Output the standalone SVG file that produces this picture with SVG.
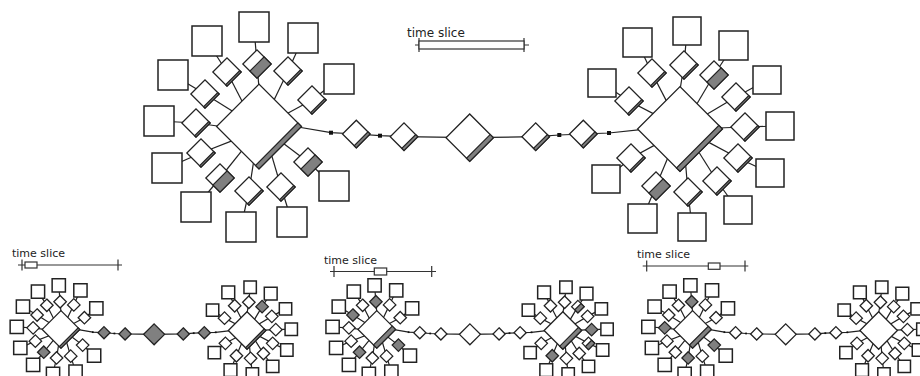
<svg xmlns="http://www.w3.org/2000/svg" width="920" height="376" viewBox="0 0 920 376">
<style>
.sq{fill:#fff;stroke:#222;stroke-width:1.5}
.d{fill:#fff;stroke:#222;stroke-width:1.3}
.d.g{fill:#808080}
.bar{fill:#808080;stroke:#222;stroke-width:1.2}
.c path{fill:none;stroke:#222;stroke-width:1.2}
.dot{fill:#111}
.ts{font-family:"DejaVu Sans",sans-serif;fill:#222}
.tl{stroke:#333;stroke-width:1.2;fill:none}
.tr{fill:#fff;stroke:#333;stroke-width:1.2}
.bot *{vector-effect:non-scaling-stroke}
</style>
<rect width="920" height="376" fill="#fff"/>

<!-- ===== TOP DIAGRAM ===== -->
<g id="top">
<g id="connectors" class="c">
<path d="M257 64L259 88"/><path d="M227 72L244 105"/><path d="M205 94L235.4 113.1"/><path d="M196 123L221 126.5"/><path d="M201 153L235 139.6"/><path d="M220 178L243.9 148.2"/><path d="M249 191L254 159.4"/><path d="M281 187L270.7 152.2"/><path d="M308 162L280.9 141.4"/><path d="M312 100L284.5 115"/><path d="M288 71L272.6 103"/>
<path d="M257 64L254 27"/><path d="M227 72L207 41"/><path d="M205 94L173 75"/><path d="M196 123L159 121"/><path d="M201 153L167 168"/><path d="M220 178L196 207"/><path d="M249 191L241 227"/><path d="M281 187L292 222"/><path d="M308 162L334 186"/><path d="M312 100L339 79"/><path d="M288 71L303 38"/>
<path d="M652 73L667.8 103.6"/><path d="M684 65L680 90"/><path d="M714 75L695.2 106.7"/><path d="M736 97L704.3 115.8"/><path d="M629 101L656.6 115.4"/><path d="M745 127L718 128"/><path d="M738 158L705.5 140.6"/><path d="M631 158L657.5 143.6"/><path d="M717 181L696.9 149"/><path d="M656 186L669 155"/><path d="M688 192L685.4 161.7"/>
<path d="M652 73L637.5 42.5"/><path d="M684 65L687 31"/><path d="M714 75L733.5 45.5"/><path d="M736 97L767 80"/><path d="M629 101L602 83"/><path d="M745 127L780 126"/><path d="M738 158L770 173"/><path d="M631 158L606 179"/><path d="M717 181L738 210"/><path d="M656 186L642.5 218.5"/><path d="M688 192L692 227"/>
<path d="M295 126.5L331 132.7L356.3 134L380 135.7L404 136.7L469.7 137.7L535.7 136.7L559.3 135L583.3 134L609 133L643 129.3"/>
</g>

<g id="hubL" transform="translate(259 126.5) rotate(45)"><rect class="d" x="-30" y="-30" width="60" height="60"/><rect class="bar" x="25" y="-30" width="5" height="60"/></g>
<g id="hubR" transform="translate(680 129) rotate(45)"><rect class="d" x="-30" y="-30" width="60" height="60"/><rect class="bar" x="25" y="-30" width="5" height="60"/></g>

<g id="L1" transform="translate(257 64) rotate(45)"><rect class="d" x="-10" y="-10" width="20" height="20"/><rect class="bar" x="0" y="-10" width="10" height="20"/></g>
<g id="L2" transform="translate(227 72) rotate(45)"><rect class="d" x="-10" y="-10" width="20" height="20"/><rect class="bar" x="8" y="-10" width="2" height="20"/></g>
<g id="L3" transform="translate(205 94) rotate(45)"><rect class="d" x="-10" y="-10" width="20" height="20"/><rect class="bar" x="8" y="-10" width="2" height="20"/></g>
<g id="L4" transform="translate(196 123) rotate(45)"><rect class="d" x="-10" y="-10" width="20" height="20"/><rect class="bar" x="8" y="-10" width="2" height="20"/></g>
<g id="L5" transform="translate(201 153) rotate(45)"><rect class="d" x="-10" y="-10" width="20" height="20"/><rect class="bar" x="8" y="-10" width="2" height="20"/></g>
<g id="L6" transform="translate(220 178) rotate(45)"><rect class="d" x="-10" y="-10" width="20" height="20"/><rect class="bar" x="0" y="-10" width="10" height="20"/></g>
<g id="L7" transform="translate(249 191) rotate(45)"><rect class="d" x="-10" y="-10" width="20" height="20"/><rect class="bar" x="8" y="-10" width="2" height="20"/></g>
<g id="L8" transform="translate(281 187) rotate(45)"><rect class="d" x="-10" y="-10" width="20" height="20"/><rect class="bar" x="8" y="-10" width="2" height="20"/></g>
<g id="L9" transform="translate(308 162) rotate(45)"><rect class="d" x="-10" y="-10" width="20" height="20"/><rect class="bar" x="0" y="-10" width="10" height="20"/></g>
<g id="L10" transform="translate(312 100) rotate(45)"><rect class="d" x="-10" y="-10" width="20" height="20"/><rect class="bar" x="8" y="-10" width="2" height="20"/></g>
<g id="L11" transform="translate(288 71) rotate(45)"><rect class="d" x="-10" y="-10" width="20" height="20"/><rect class="bar" x="8" y="-10" width="2" height="20"/></g>

<g id="Lq1"><rect class="sq" x="239" y="12" width="30" height="30"/></g>
<g id="Lq2"><rect class="sq" x="192" y="26" width="30" height="30"/></g>
<g id="Lq3"><rect class="sq" x="158" y="60" width="30" height="30"/></g>
<g id="Lq4"><rect class="sq" x="144" y="106" width="30" height="30"/></g>
<g id="Lq5"><rect class="sq" x="152" y="153" width="30" height="30"/></g>
<g id="Lq6"><rect class="sq" x="181" y="192" width="30" height="30"/></g>
<g id="Lq7"><rect class="sq" x="226" y="212" width="30" height="30"/></g>
<g id="Lq8"><rect class="sq" x="277" y="207" width="30" height="30"/></g>
<g id="Lq9"><rect class="sq" x="319" y="171" width="30" height="30"/></g>
<g id="Lq10"><rect class="sq" x="324" y="64" width="30" height="30"/></g>
<g id="Lq11"><rect class="sq" x="288" y="23" width="30" height="30"/></g>

<g id="Ra" transform="translate(652 73) rotate(45)"><rect class="d" x="-10" y="-10" width="20" height="20"/><rect class="bar" x="8" y="-10" width="2" height="20"/></g>
<g id="Rb" transform="translate(684 65) rotate(45)"><rect class="d" x="-10" y="-10" width="20" height="20"/><rect class="bar" x="8" y="-10" width="2" height="20"/></g>
<g id="Rc" transform="translate(714 75) rotate(45)"><rect class="d" x="-10" y="-10" width="20" height="20"/><rect class="bar" x="0" y="-10" width="10" height="20"/></g>
<g id="Rd" transform="translate(736 97) rotate(45)"><rect class="d" x="-10" y="-10" width="20" height="20"/><rect class="bar" x="8" y="-10" width="2" height="20"/></g>
<g id="Re" transform="translate(629 101) rotate(45)"><rect class="d" x="-10" y="-10" width="20" height="20"/><rect class="bar" x="8" y="-10" width="2" height="20"/></g>
<g id="Rf" transform="translate(745 127) rotate(45)"><rect class="d" x="-10" y="-10" width="20" height="20"/><rect class="bar" x="8" y="-10" width="2" height="20"/></g>
<g id="Rg" transform="translate(738 158) rotate(45)"><rect class="d" x="-10" y="-10" width="20" height="20"/><rect class="bar" x="8" y="-10" width="2" height="20"/></g>
<g id="Rh" transform="translate(631 158) rotate(45)"><rect class="d" x="-10" y="-10" width="20" height="20"/><rect class="bar" x="8" y="-10" width="2" height="20"/></g>
<g id="Ri" transform="translate(717 181) rotate(45)"><rect class="d" x="-10" y="-10" width="20" height="20"/><rect class="bar" x="8" y="-10" width="2" height="20"/></g>
<g id="Rj" transform="translate(656 186) rotate(45)"><rect class="d" x="-10" y="-10" width="20" height="20"/><rect class="bar" x="0" y="-10" width="10" height="20"/></g>
<g id="Rk" transform="translate(688 192) rotate(45)"><rect class="d" x="-10" y="-10" width="20" height="20"/><rect class="bar" x="8" y="-10" width="2" height="20"/></g>

<g id="Rqa"><rect class="sq" x="623" y="28" width="29" height="29"/></g>
<g id="Rqb"><rect class="sq" x="673" y="17" width="28" height="28"/></g>
<g id="Rqc"><rect class="sq" x="719" y="31" width="29" height="29"/></g>
<g id="Rqd"><rect class="sq" x="753" y="66" width="28" height="28"/></g>
<g id="Rqe"><rect class="sq" x="588" y="69" width="28" height="28"/></g>
<g id="Rqf"><rect class="sq" x="766" y="112" width="28" height="28"/></g>
<g id="Rqg"><rect class="sq" x="756" y="159" width="28" height="28"/></g>
<g id="Rqh"><rect class="sq" x="592" y="165" width="28" height="28"/></g>
<g id="Rqi"><rect class="sq" x="724" y="196" width="28" height="28"/></g>
<g id="Rqj"><rect class="sq" x="628" y="204" width="29" height="29"/></g>
<g id="Rqk"><rect class="sq" x="678" y="213" width="28" height="28"/></g>

<g id="Cdot1"><rect class="dot" x="329" y="130.7" width="4" height="4"/></g>
<g id="Cd1" transform="translate(356.3 134) rotate(45)"><rect class="d" x="-9.75" y="-9.75" width="19.5" height="19.5"/><rect class="bar" x="6.75" y="-9.75" width="3" height="19.5"/></g>
<g id="Cdot2"><rect class="dot" x="378" y="133.7" width="4" height="4"/></g>
<g id="Cd2" transform="translate(404 136.7) rotate(45)"><rect class="d" x="-9.75" y="-9.75" width="19.5" height="19.5"/><rect class="bar" x="6.75" y="-9.75" width="3" height="19.5"/></g>
<g id="Cbig" transform="translate(469.7 137.7) rotate(45)"><rect class="d" x="-16.75" y="-16.75" width="33.5" height="33.5"/><rect class="bar" x="12.25" y="-16.75" width="4.5" height="33.5"/></g>
<g id="Cd3" transform="translate(535.7 136.7) rotate(45)"><rect class="d" x="-9.75" y="-9.75" width="19.5" height="19.5"/><rect class="bar" x="6.75" y="-9.75" width="3" height="19.5"/></g>
<g id="Cdot3"><rect class="dot" x="557.3" y="133" width="4" height="4"/></g>
<g id="Cd4" transform="translate(583.3 134) rotate(45)"><rect class="d" x="-9.75" y="-9.75" width="19.5" height="19.5"/><rect class="bar" x="6.75" y="-9.75" width="3" height="19.5"/></g>
<g id="Cdot4"><rect class="dot" x="607" y="131" width="4" height="4"/></g>

<g id="timeslice-top">
<text class="ts" x="407" y="37" font-size="12">time slice</text>
<path class="tl" d="M415 45H529M419 38V52M524 38V52"/>
<rect class="tr" x="419" y="41" width="105" height="8"/>
</g>
</g>

<!-- ===== BOTTOM PANEL 1 ===== -->
<g id="timeslice-p1">
<text class="ts" x="12" y="257" font-size="11">time slice</text>
<path class="tl" d="M18 265H122M22 259.5V270.5M118 259.5V270.5"/>
<rect class="tr" x="25" y="262" width="12" height="6"/>
</g>
<g id="panel1" class="bot" transform="translate(-53.5 273.5) scale(0.442)">
<g id="p1-connectors" class="c">
<path d="M257 64L259 88M227 72L244 105M205 94L235.4 113.1M196 123L221 126.5M201 153L235 139.6M220 178L243.9 148.2M249 191L254 159.4M281 187L270.7 152.2M308 162L280.9 141.4M312 100L284.5 115M288 71L272.6 103"/>
<path d="M257 64L254 27M227 72L207 41M205 94L173 75M196 123L159 121M201 153L167 168M220 178L196 207M249 191L241 227M281 187L292 222M308 162L334 186M312 100L339 79M288 71L303 38"/>
<path d="M652 73L667.8 103.6M684 65L680 90M714 75L695.2 106.7M736 97L704.3 115.8M629 101L656.6 115.4M745 127L718 128M738 158L705.5 140.6M631 158L657.5 143.6M717 181L696.9 149M656 186L669 155M688 192L685.4 161.7"/>
<path d="M652 73L637.5 42.5M684 65L687 31M714 75L733.5 45.5M736 97L767 80M629 101L602 83M745 127L780 126M738 158L770 173M631 158L606 179M717 181L738 210M656 186L642.5 218.5M688 192L692 227"/>
<path d="M295 126.5L331 132.7L356.3 134L380 135.7L404 136.7L469.7 137.7L535.7 136.7L559.3 135L583.3 134L609 133L643 129.3"/>
</g>
<g id="p1-hubL" transform="translate(259 126.5) rotate(45)"><rect class="d" x="-30" y="-30" width="60" height="60"/><rect class="bar" x="25" y="-30" width="5" height="60"/></g>
<g id="p1-hubR" transform="translate(680 129) rotate(45)"><rect class="d" x="-30" y="-30" width="60" height="60"/><rect class="bar" x="25" y="-30" width="5" height="60"/></g>
<g id="p1-L1" transform="translate(257 64) rotate(45)"><rect class="d" x="-10" y="-10" width="20" height="20"/></g>
<g id="p1-L2" transform="translate(227 72) rotate(45)"><rect class="d" x="-10" y="-10" width="20" height="20"/></g>
<g id="p1-L3" transform="translate(205 94) rotate(45)"><rect class="d" x="-10" y="-10" width="20" height="20"/></g>
<g id="p1-L4" transform="translate(196 123) rotate(45)"><rect class="d" x="-10" y="-10" width="20" height="20"/></g>
<g id="p1-L5" transform="translate(201 153) rotate(45)"><rect class="d" x="-10" y="-10" width="20" height="20"/></g>
<g id="p1-L6" transform="translate(220 178) rotate(45)"><rect class="d g" x="-10" y="-10" width="20" height="20"/></g>
<g id="p1-L7" transform="translate(249 191) rotate(45)"><rect class="d" x="-10" y="-10" width="20" height="20"/></g>
<g id="p1-L8" transform="translate(281 187) rotate(45)"><rect class="d" x="-10" y="-10" width="20" height="20"/></g>
<g id="p1-L9" transform="translate(308 162) rotate(45)"><rect class="d" x="-10" y="-10" width="20" height="20"/></g>
<g id="p1-L10" transform="translate(312 100) rotate(45)"><rect class="d" x="-10" y="-10" width="20" height="20"/></g>
<g id="p1-L11" transform="translate(288 71) rotate(45)"><rect class="d" x="-10" y="-10" width="20" height="20"/></g>
<g id="p1-Lq1"><rect class="sq" x="239" y="12" width="30" height="30"/></g>
<g id="p1-Lq2"><rect class="sq" x="192" y="26" width="30" height="30"/></g>
<g id="p1-Lq3"><rect class="sq" x="158" y="60" width="30" height="30"/></g>
<g id="p1-Lq4"><rect class="sq" x="144" y="106" width="30" height="30"/></g>
<g id="p1-Lq5"><rect class="sq" x="152" y="153" width="30" height="30"/></g>
<g id="p1-Lq6"><rect class="sq" x="181" y="192" width="30" height="30"/></g>
<g id="p1-Lq7"><rect class="sq" x="226" y="212" width="30" height="30"/></g>
<g id="p1-Lq8"><rect class="sq" x="277" y="207" width="30" height="30"/></g>
<g id="p1-Lq9"><rect class="sq" x="319" y="171" width="30" height="30"/></g>
<g id="p1-Lq10"><rect class="sq" x="324" y="64" width="30" height="30"/></g>
<g id="p1-Lq11"><rect class="sq" x="288" y="23" width="30" height="30"/></g>
<g id="p1-Ra" transform="translate(652 73) rotate(45)"><rect class="d" x="-10" y="-10" width="20" height="20"/></g>
<g id="p1-Rb" transform="translate(684 65) rotate(45)"><rect class="d" x="-10" y="-10" width="20" height="20"/></g>
<g id="p1-Rc" transform="translate(714 75) rotate(45)"><rect class="d g" x="-10" y="-10" width="20" height="20"/></g>
<g id="p1-Rd" transform="translate(736 97) rotate(45)"><rect class="d" x="-10" y="-10" width="20" height="20"/></g>
<g id="p1-Re" transform="translate(629 101) rotate(45)"><rect class="d" x="-10" y="-10" width="20" height="20"/></g>
<g id="p1-Rf" transform="translate(745 127) rotate(45)"><rect class="d" x="-10" y="-10" width="20" height="20"/></g>
<g id="p1-Rg" transform="translate(738 158) rotate(45)"><rect class="d" x="-10" y="-10" width="20" height="20"/></g>
<g id="p1-Rh" transform="translate(631 158) rotate(45)"><rect class="d" x="-10" y="-10" width="20" height="20"/></g>
<g id="p1-Ri" transform="translate(717 181) rotate(45)"><rect class="d" x="-10" y="-10" width="20" height="20"/></g>
<g id="p1-Rj" transform="translate(656 186) rotate(45)"><rect class="d" x="-10" y="-10" width="20" height="20"/></g>
<g id="p1-Rk" transform="translate(688 192) rotate(45)"><rect class="d" x="-10" y="-10" width="20" height="20"/></g>
<g id="p1-Rqa"><rect class="sq" x="623" y="28" width="29" height="29"/></g>
<g id="p1-Rqb"><rect class="sq" x="673" y="17" width="28" height="28"/></g>
<g id="p1-Rqc"><rect class="sq" x="719" y="31" width="29" height="29"/></g>
<g id="p1-Rqd"><rect class="sq" x="753" y="66" width="28" height="28"/></g>
<g id="p1-Rqe"><rect class="sq" x="588" y="69" width="28" height="28"/></g>
<g id="p1-Rqf"><rect class="sq" x="766" y="112" width="28" height="28"/></g>
<g id="p1-Rqg"><rect class="sq" x="756" y="159" width="28" height="28"/></g>
<g id="p1-Rqh"><rect class="sq" x="592" y="165" width="28" height="28"/></g>
<g id="p1-Rqi"><rect class="sq" x="724" y="196" width="28" height="28"/></g>
<g id="p1-Rqj"><rect class="sq" x="628" y="204" width="29" height="29"/></g>
<g id="p1-Rqk"><rect class="sq" x="678" y="213" width="28" height="28"/></g>
<g id="p1-Cdot1"><rect class="dot" x="329" y="130.7" width="4" height="4"/></g>
<g id="p1-Cd1" transform="translate(356.3 134) rotate(45)"><rect class="d g" x="-9.75" y="-9.75" width="19.5" height="19.5"/></g>
<g id="p1-Cdot2"><rect class="dot" x="378" y="133.7" width="4" height="4"/></g>
<g id="p1-Cd2" transform="translate(404 136.7) rotate(45)"><rect class="d g" x="-9.75" y="-9.75" width="19.5" height="19.5"/></g>
<g id="p1-Cbig" transform="translate(469.7 137.7) rotate(45)"><rect class="d g" x="-16.75" y="-16.75" width="33.5" height="33.5"/></g>
<g id="p1-Cd3" transform="translate(535.7 136.7) rotate(45)"><rect class="d g" x="-9.75" y="-9.75" width="19.5" height="19.5"/></g>
<g id="p1-Cdot3"><rect class="dot" x="557.3" y="133" width="4" height="4"/></g>
<g id="p1-Cd4" transform="translate(583.3 134) rotate(45)"><rect class="d g" x="-9.75" y="-9.75" width="19.5" height="19.5"/></g>
<g id="p1-Cdot4"><rect class="dot" x="607" y="131" width="4" height="4"/></g>
</g>

<!-- ===== BOTTOM PANEL 2 ===== -->
<g id="timeslice-p2">
<text class="ts" x="324" y="263.5" font-size="11">time slice</text>
<path class="tl" d="M330 271.5H436M334 266V277M431.7 266V277"/>
<rect class="tr" x="374.3" y="268" width="12.4" height="7"/>
</g>
<g id="panel2" class="bot" transform="translate(262.3 273.5) scale(0.442)">
<g id="p2-connectors" class="c">
<path d="M257 64L259 88M227 72L244 105M205 94L235.4 113.1M196 123L221 126.5M201 153L235 139.6M220 178L243.9 148.2M249 191L254 159.4M281 187L270.7 152.2M308 162L280.9 141.4M312 100L284.5 115M288 71L272.6 103"/>
<path d="M257 64L254 27M227 72L207 41M205 94L173 75M196 123L159 121M201 153L167 168M220 178L196 207M249 191L241 227M281 187L292 222M308 162L334 186M312 100L339 79M288 71L303 38"/>
<path d="M652 73L667.8 103.6M684 65L680 90M714 75L695.2 106.7M736 97L704.3 115.8M629 101L656.6 115.4M745 127L718 128M738 158L705.5 140.6M631 158L657.5 143.6M717 181L696.9 149M656 186L669 155M688 192L685.4 161.7"/>
<path d="M652 73L637.5 42.5M684 65L687 31M714 75L733.5 45.5M736 97L767 80M629 101L602 83M745 127L780 126M738 158L770 173M631 158L606 179M717 181L738 210M656 186L642.5 218.5M688 192L692 227"/>
<path d="M295 126.5L331 132.7L356.3 134L380 135.7L404 136.7L469.7 137.7L535.7 136.7L559.3 135L583.3 134L609 133L643 129.3"/>
</g>
<g id="p2-hubL" transform="translate(259 126.5) rotate(45)"><rect class="d" x="-30" y="-30" width="60" height="60"/><rect class="bar" x="19.5" y="-30" width="10.5" height="60"/></g>
<g id="p2-hubR" transform="translate(680 129) rotate(45)"><rect class="d" x="-30" y="-30" width="60" height="60"/><rect class="bar" x="20" y="-30" width="10" height="60"/></g>
<g id="p2-L1" transform="translate(257 64) rotate(45)"><rect class="d g" x="-10" y="-10" width="20" height="20"/></g>
<g id="p2-L2" transform="translate(227 72) rotate(45)"><rect class="d" x="-10" y="-10" width="20" height="20"/></g>
<g id="p2-L3" transform="translate(205 94) rotate(45)"><rect class="d g" x="-10" y="-10" width="20" height="20"/></g>
<g id="p2-L4" transform="translate(196 123) rotate(45)"><rect class="d" x="-10" y="-10" width="20" height="20"/></g>
<g id="p2-L5" transform="translate(201 153) rotate(45)"><rect class="d" x="-10" y="-10" width="20" height="20"/></g>
<g id="p2-L6" transform="translate(220 178) rotate(45)"><rect class="d g" x="-10" y="-10" width="20" height="20"/></g>
<g id="p2-L7" transform="translate(249 191) rotate(45)"><rect class="d" x="-10" y="-10" width="20" height="20"/></g>
<g id="p2-L8" transform="translate(281 187) rotate(45)"><rect class="d" x="-10" y="-10" width="20" height="20"/></g>
<g id="p2-L9" transform="translate(308 162) rotate(45)"><rect class="d g" x="-10" y="-10" width="20" height="20"/></g>
<g id="p2-L10" transform="translate(312 100) rotate(45)"><rect class="d" x="-10" y="-10" width="20" height="20"/></g>
<g id="p2-L11" transform="translate(288 71) rotate(45)"><rect class="d" x="-10" y="-10" width="20" height="20"/></g>
<g id="p2-Lq1"><rect class="sq" x="239" y="12" width="30" height="30"/></g>
<g id="p2-Lq2"><rect class="sq" x="192" y="26" width="30" height="30"/></g>
<g id="p2-Lq3"><rect class="sq" x="158" y="60" width="30" height="30"/></g>
<g id="p2-Lq4"><rect class="sq" x="144" y="106" width="30" height="30"/></g>
<g id="p2-Lq5"><rect class="sq" x="152" y="153" width="30" height="30"/></g>
<g id="p2-Lq6"><rect class="sq" x="181" y="192" width="30" height="30"/></g>
<g id="p2-Lq7"><rect class="sq" x="226" y="212" width="30" height="30"/></g>
<g id="p2-Lq8"><rect class="sq" x="277" y="207" width="30" height="30"/></g>
<g id="p2-Lq9"><rect class="sq" x="319" y="171" width="30" height="30"/></g>
<g id="p2-Lq10"><rect class="sq" x="324" y="64" width="30" height="30"/></g>
<g id="p2-Lq11"><rect class="sq" x="288" y="23" width="30" height="30"/></g>
<g id="p2-Ra" transform="translate(652 73) rotate(45)"><rect class="d" x="-10" y="-10" width="20" height="20"/></g>
<g id="p2-Rb" transform="translate(684 65) rotate(45)"><rect class="d" x="-10" y="-10" width="20" height="20"/></g>
<g id="p2-Rc" transform="translate(714 75) rotate(45)"><rect class="d" x="-10" y="-10" width="20" height="20"/><rect class="bar" x="0" y="-10" width="10" height="20"/></g>
<g id="p2-Rd" transform="translate(736 97) rotate(45)"><rect class="d" x="-10" y="-10" width="20" height="20"/></g>
<g id="p2-Re" transform="translate(629 101) rotate(45)"><rect class="d" x="-10" y="-10" width="20" height="20"/></g>
<g id="p2-Rf" transform="translate(745 127) rotate(45)"><rect class="d g" x="-10" y="-10" width="20" height="20"/></g>
<g id="p2-Rg" transform="translate(738 158) rotate(45)"><rect class="d" x="-10" y="-10" width="20" height="20"/><rect class="bar" x="0" y="-10" width="10" height="20"/></g>
<g id="p2-Rh" transform="translate(631 158) rotate(45)"><rect class="d" x="-10" y="-10" width="20" height="20"/></g>
<g id="p2-Ri" transform="translate(717 181) rotate(45)"><rect class="d" x="-10" y="-10" width="20" height="20"/></g>
<g id="p2-Rj" transform="translate(656 186) rotate(45)"><rect class="d g" x="-10" y="-10" width="20" height="20"/></g>
<g id="p2-Rk" transform="translate(688 192) rotate(45)"><rect class="d" x="-10" y="-10" width="20" height="20"/></g>
<g id="p2-Rqa"><rect class="sq" x="623" y="28" width="29" height="29"/></g>
<g id="p2-Rqb"><rect class="sq" x="673" y="17" width="28" height="28"/></g>
<g id="p2-Rqc"><rect class="sq" x="719" y="31" width="29" height="29"/></g>
<g id="p2-Rqd"><rect class="sq" x="753" y="66" width="28" height="28"/></g>
<g id="p2-Rqe"><rect class="sq" x="588" y="69" width="28" height="28"/></g>
<g id="p2-Rqf"><rect class="sq" x="766" y="112" width="28" height="28"/></g>
<g id="p2-Rqg"><rect class="sq" x="756" y="159" width="28" height="28"/></g>
<g id="p2-Rqh"><rect class="sq" x="592" y="165" width="28" height="28"/></g>
<g id="p2-Rqi"><rect class="sq" x="724" y="196" width="28" height="28"/></g>
<g id="p2-Rqj"><rect class="sq" x="628" y="204" width="29" height="29"/></g>
<g id="p2-Rqk"><rect class="sq" x="678" y="213" width="28" height="28"/></g>
<g id="p2-Cdot1"><rect class="dot" x="329" y="130.7" width="4" height="4"/></g>
<g id="p2-Cd1" transform="translate(356.3 134) rotate(45)"><rect class="d" x="-9.75" y="-9.75" width="19.5" height="19.5"/></g>
<g id="p2-Cdot2"><rect class="dot" x="378" y="133.7" width="4" height="4"/></g>
<g id="p2-Cd2" transform="translate(404 136.7) rotate(45)"><rect class="d" x="-9.75" y="-9.75" width="19.5" height="19.5"/></g>
<g id="p2-Cbig" transform="translate(469.7 137.7) rotate(45)"><rect class="d" x="-16.75" y="-16.75" width="33.5" height="33.5"/></g>
<g id="p2-Cd3" transform="translate(535.7 136.7) rotate(45)"><rect class="d" x="-9.75" y="-9.75" width="19.5" height="19.5"/></g>
<g id="p2-Cdot3"><rect class="dot" x="557.3" y="133" width="4" height="4"/></g>
<g id="p2-Cd4" transform="translate(583.3 134) rotate(45)"><rect class="d" x="-9.75" y="-9.75" width="19.5" height="19.5"/></g>
<g id="p2-Cdot4"><rect class="dot" x="607" y="131" width="4" height="4"/></g>
</g>

<!-- ===== BOTTOM PANEL 3 ===== -->
<g id="timeslice-p3">
<text class="ts" x="637" y="258" font-size="11">time slice</text>
<path class="tl" d="M642.7 266H748.3M646.7 260.5V271.5M745 260.5V271.5"/>
<rect class="tr" x="708.3" y="263" width="11.7" height="6.3"/>
</g>
<g id="panel3" class="bot" transform="translate(578.1 273.5) scale(0.442)">
<g id="p3-connectors" class="c">
<path d="M257 64L259 88M227 72L244 105M205 94L235.4 113.1M196 123L221 126.5M201 153L235 139.6M220 178L243.9 148.2M249 191L254 159.4M281 187L270.7 152.2M308 162L280.9 141.4M312 100L284.5 115M288 71L272.6 103"/>
<path d="M257 64L254 27M227 72L207 41M205 94L173 75M196 123L159 121M201 153L167 168M220 178L196 207M249 191L241 227M281 187L292 222M308 162L334 186M312 100L339 79M288 71L303 38"/>
<path d="M652 73L667.8 103.6M684 65L680 90M714 75L695.2 106.7M736 97L704.3 115.8M629 101L656.6 115.4M745 127L718 128M738 158L705.5 140.6M631 158L657.5 143.6M717 181L696.9 149M656 186L669 155M688 192L685.4 161.7"/>
<path d="M652 73L637.5 42.5M684 65L687 31M714 75L733.5 45.5M736 97L767 80M629 101L602 83M745 127L780 126M738 158L770 173M631 158L606 179M717 181L738 210M656 186L642.5 218.5M688 192L692 227"/>
<path d="M295 126.5L331 132.7L356.3 134L380 135.7L404 136.7L469.7 137.7L535.7 136.7L559.3 135L583.3 134L609 133L643 129.3"/>
</g>
<g id="p3-hubL" transform="translate(259 126.5) rotate(45)"><rect class="d" x="-30" y="-30" width="60" height="60"/><rect class="bar" x="20" y="-30" width="10" height="60"/></g>
<g id="p3-hubR" transform="translate(680 129) rotate(45)"><rect class="d" x="-30" y="-30" width="60" height="60"/></g>
<g id="p3-L1" transform="translate(257 64) rotate(45)"><rect class="d g" x="-10" y="-10" width="20" height="20"/></g>
<g id="p3-L2" transform="translate(227 72) rotate(45)"><rect class="d" x="-10" y="-10" width="20" height="20"/></g>
<g id="p3-L3" transform="translate(205 94) rotate(45)"><rect class="d" x="-10" y="-10" width="20" height="20"/></g>
<g id="p3-L4" transform="translate(196 123) rotate(45)"><rect class="d g" x="-10" y="-10" width="20" height="20"/></g>
<g id="p3-L5" transform="translate(201 153) rotate(45)"><rect class="d" x="-10" y="-10" width="20" height="20"/></g>
<g id="p3-L6" transform="translate(220 178) rotate(45)"><rect class="d" x="-10" y="-10" width="20" height="20"/></g>
<g id="p3-L7" transform="translate(249 191) rotate(45)"><rect class="d g" x="-10" y="-10" width="20" height="20"/></g>
<g id="p3-L8" transform="translate(281 187) rotate(45)"><rect class="d" x="-10" y="-10" width="20" height="20"/></g>
<g id="p3-L9" transform="translate(308 162) rotate(45)"><rect class="d g" x="-10" y="-10" width="20" height="20"/></g>
<g id="p3-L10" transform="translate(312 100) rotate(45)"><rect class="d" x="-10" y="-10" width="20" height="20"/></g>
<g id="p3-L11" transform="translate(288 71) rotate(45)"><rect class="d" x="-10" y="-10" width="20" height="20"/></g>
<g id="p3-Lq1"><rect class="sq" x="239" y="12" width="30" height="30"/></g>
<g id="p3-Lq2"><rect class="sq" x="192" y="26" width="30" height="30"/></g>
<g id="p3-Lq3"><rect class="sq" x="158" y="60" width="30" height="30"/></g>
<g id="p3-Lq4"><rect class="sq" x="144" y="106" width="30" height="30"/></g>
<g id="p3-Lq5"><rect class="sq" x="152" y="153" width="30" height="30"/></g>
<g id="p3-Lq6"><rect class="sq" x="181" y="192" width="30" height="30"/></g>
<g id="p3-Lq7"><rect class="sq" x="226" y="212" width="30" height="30"/></g>
<g id="p3-Lq8"><rect class="sq" x="277" y="207" width="30" height="30"/></g>
<g id="p3-Lq9"><rect class="sq" x="319" y="171" width="30" height="30"/></g>
<g id="p3-Lq10"><rect class="sq" x="324" y="64" width="30" height="30"/></g>
<g id="p3-Lq11"><rect class="sq" x="288" y="23" width="30" height="30"/></g>
<g id="p3-Ra" transform="translate(652 73) rotate(45)"><rect class="d" x="-10" y="-10" width="20" height="20"/></g>
<g id="p3-Rb" transform="translate(684 65) rotate(45)"><rect class="d" x="-10" y="-10" width="20" height="20"/></g>
<g id="p3-Rc" transform="translate(714 75) rotate(45)"><rect class="d" x="-10" y="-10" width="20" height="20"/></g>
<g id="p3-Rd" transform="translate(736 97) rotate(45)"><rect class="d" x="-10" y="-10" width="20" height="20"/></g>
<g id="p3-Re" transform="translate(629 101) rotate(45)"><rect class="d" x="-10" y="-10" width="20" height="20"/></g>
<g id="p3-Rf" transform="translate(745 127) rotate(45)"><rect class="d" x="-10" y="-10" width="20" height="20"/></g>
<g id="p3-Rg" transform="translate(738 158) rotate(45)"><rect class="d" x="-10" y="-10" width="20" height="20"/></g>
<g id="p3-Rh" transform="translate(631 158) rotate(45)"><rect class="d" x="-10" y="-10" width="20" height="20"/></g>
<g id="p3-Ri" transform="translate(717 181) rotate(45)"><rect class="d" x="-10" y="-10" width="20" height="20"/></g>
<g id="p3-Rj" transform="translate(656 186) rotate(45)"><rect class="d" x="-10" y="-10" width="20" height="20"/></g>
<g id="p3-Rk" transform="translate(688 192) rotate(45)"><rect class="d" x="-10" y="-10" width="20" height="20"/></g>
<g id="p3-Rqa"><rect class="sq" x="623" y="28" width="29" height="29"/></g>
<g id="p3-Rqb"><rect class="sq" x="673" y="17" width="28" height="28"/></g>
<g id="p3-Rqc"><rect class="sq" x="719" y="31" width="29" height="29"/></g>
<g id="p3-Rqd"><rect class="sq" x="753" y="66" width="28" height="28"/></g>
<g id="p3-Rqe"><rect class="sq" x="588" y="69" width="28" height="28"/></g>
<g id="p3-Rqf"><rect class="sq" x="766" y="112" width="28" height="28"/></g>
<g id="p3-Rqg"><rect class="sq" x="756" y="159" width="28" height="28"/></g>
<g id="p3-Rqh"><rect class="sq" x="592" y="165" width="28" height="28"/></g>
<g id="p3-Rqi"><rect class="sq" x="724" y="196" width="28" height="28"/></g>
<g id="p3-Rqj"><rect class="sq" x="628" y="204" width="29" height="29"/></g>
<g id="p3-Rqk"><rect class="sq" x="678" y="213" width="28" height="28"/></g>
<g id="p3-Cdot1"><rect class="dot" x="329" y="130.7" width="4" height="4"/></g>
<g id="p3-Cd1" transform="translate(356.3 134) rotate(45)"><rect class="d" x="-9.75" y="-9.75" width="19.5" height="19.5"/></g>
<g id="p3-Cdot2"><rect class="dot" x="378" y="133.7" width="4" height="4"/></g>
<g id="p3-Cd2" transform="translate(404 136.7) rotate(45)"><rect class="d" x="-9.75" y="-9.75" width="19.5" height="19.5"/></g>
<g id="p3-Cbig" transform="translate(469.7 137.7) rotate(45)"><rect class="d" x="-16.75" y="-16.75" width="33.5" height="33.5"/></g>
<g id="p3-Cd3" transform="translate(535.7 136.7) rotate(45)"><rect class="d" x="-9.75" y="-9.75" width="19.5" height="19.5"/></g>
<g id="p3-Cdot3"><rect class="dot" x="557.3" y="133" width="4" height="4"/></g>
<g id="p3-Cd4" transform="translate(583.3 134) rotate(45)"><rect class="d" x="-9.75" y="-9.75" width="19.5" height="19.5"/></g>
<g id="p3-Cdot4"><rect class="dot" x="607" y="131" width="4" height="4"/></g>
</g>
</svg>
